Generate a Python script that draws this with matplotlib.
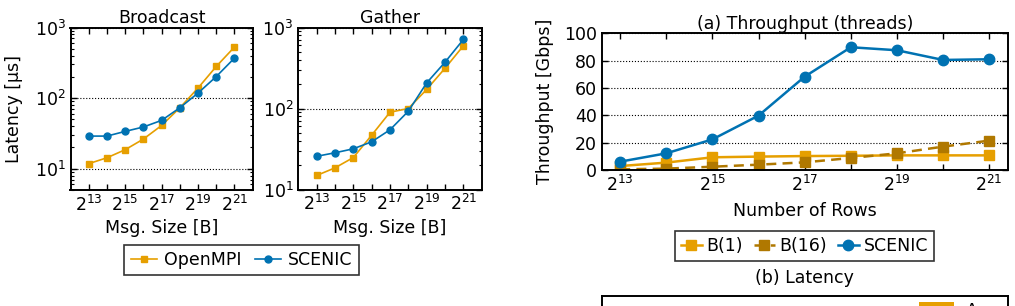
import matplotlib
matplotlib.use("Agg")
import matplotlib.pyplot as plt
from matplotlib.ticker import FixedLocator, FuncFormatter, LogLocator, NullFormatter
from matplotlib.patches import Rectangle

# ---------------- data ----------------
exps = [13, 14, 15, 16, 17, 18, 19, 20, 21]
msg_sizes = [2 ** e for e in exps]

bcast_openmpi = [11.8, 14.3, 18.6, 26.3, 41, 73, 139, 281, 529]
bcast_scenic = [29, 29, 33.8, 39, 48.4, 73, 118, 202, 369]

gather_openmpi = [14.9, 18.5, 24.8, 46.8, 90, 100, 172, 314, 594]
gather_scenic = [25.7, 28.4, 31.8, 38.8, 54.6, 92.6, 207, 373, 711]

rows = [2 ** e for e in exps]
tp_b1 = [2.9, 5.4, 9.3, 9.8, 10.2, 10.4, 10.7, 10.7, 10.7]
tp_b16 = [0.5, 1.0, 2.4, 3.9, 5.6, 8.8, 12.2, 17.1, 21.5]
tp_scenic = [6.1, 12.2, 22.4, 39.8, 68.3, 89.8, 87.6, 80.5, 81.0]

ORANGE = "#E69F00"
BLUE = "#0072B2"
GOLD = "#B07800"

plt.rcParams["font.family"] = ["DejaVu Sans"]
FS = 12.5

W, H = 1015, 306
fig = plt.figure(figsize=(W / 100, H / 100), dpi=100)


def px_axes(left, right, top, bottom):
    return fig.add_axes([left / W, 1 - bottom / H, (right - left) / W, (bottom - top) / H])


def pow2_fmt(v, pos):
    import math
    e = int(round(math.log2(v)))
    if e % 2 == 1:
        return r"$2^{%d}$" % e
    return ""


def style_common(ax):
    for s in ax.spines.values():
        s.set_linewidth(1.4)
    ax.tick_params(which="both", direction="in", top=True, right=True, labelsize=FS)
    ax.tick_params(which="major", length=4, width=1)
    ax.tick_params(which="minor", length=2.5, width=0.8)


def latency_axes(ax, title, y_mpi, y_sc, ylim, show_ylabel):
    ax.set_xscale("log", base=2)
    ax.set_yscale("log")
    ax.plot(msg_sizes, y_mpi, marker="s", color=ORANGE, markersize=5, lw=1.2, label="OpenMPI")
    ax.plot(msg_sizes, y_sc, marker="o", color=BLUE, markersize=5, lw=1.2, label="SCENIC")
    ax.set_xlim(2 ** 12, 2 ** 22)
    ax.set_ylim(*ylim)
    ax.xaxis.set_major_locator(FixedLocator(msg_sizes))
    ax.xaxis.set_major_formatter(FuncFormatter(pow2_fmt))
    ax.xaxis.set_minor_locator(FixedLocator([]))
    ax.yaxis.set_major_locator(LogLocator(base=10))
    ax.yaxis.set_minor_locator(LogLocator(base=10, subs=range(2, 10)))
    ax.yaxis.set_minor_formatter(NullFormatter())
    ax.grid(axis="y", which="major", linestyle=":", color="black", lw=0.8)
    style_common(ax)
    ax.set_title(title, fontsize=FS, pad=3)
    ax.set_xlabel("Msg. Size [B]", fontsize=FS, labelpad=3)
    if show_ylabel:
        ax.set_ylabel("Latency [µs]", fontsize=FS, labelpad=8)


ax1 = px_axes(70.5, 252.7, 27.5, 190)
latency_axes(ax1, "Broadcast", bcast_openmpi, bcast_scenic, (5, 1000), True)

ax2 = px_axes(298.3, 481.7, 27.5, 189.5)
latency_axes(ax2, "Gather", gather_openmpi, gather_scenic, (10, 1000), False)

h, l = ax1.get_legend_handles_labels()
leg1 = fig.legend(h, l, loc="center", bbox_to_anchor=(241.5 / W, 1 - 260 / H), ncol=2,
                  fontsize=FS, frameon=True, fancybox=False, edgecolor="black",
                  handlelength=1.5, handletextpad=0.4, columnspacing=0.8, borderpad=0.35)
leg1.get_frame().set_linewidth(1.2)

# ---------------- throughput ----------------
ax3 = px_axes(601.7, 1007.7, 33.3, 170)
ax3.set_xscale("log", base=2)
ax3.plot(rows, tp_b1, marker="s", color=ORANGE, markersize=7.5, lw=1.8, label="B(1)")
ax3.plot(rows, tp_b16, marker="s", color=GOLD, markersize=7.5, lw=1.8, ls=(0, (4, 2.5)), label="B(16)")
ax3.plot(rows, tp_scenic, marker="o", color=BLUE, markersize=7.5, lw=1.8, label="SCENIC")
ax3.set_xlim(2 ** 12.6, 2 ** 21.4)
ax3.set_ylim(0, 100)
ax3.xaxis.set_major_locator(FixedLocator(rows))
ax3.xaxis.set_major_formatter(FuncFormatter(pow2_fmt))
ax3.xaxis.set_minor_locator(FixedLocator([]))
ax3.set_yticks([0, 20, 40, 60, 80, 100])
ax3.grid(axis="y", which="major", linestyle=":", color="black", lw=0.8)
style_common(ax3)
ax3.set_title("(a) Throughput (threads)", fontsize=FS, pad=2)
ax3.set_xlabel("Number of Rows", fontsize=FS, labelpad=5)
ax3.set_ylabel("Throughput [Gbps]", fontsize=FS, labelpad=7)

h3, l3 = ax3.get_legend_handles_labels()
leg3 = fig.legend(h3, l3, loc="center", bbox_to_anchor=(804.5 / W, 1 - 246 / H), ncol=3,
                  fontsize=FS, frameon=True, fancybox=False, edgecolor="black",
                  handlelength=1.2, handletextpad=0.3, columnspacing=0.6, borderpad=0.35)
leg3.get_frame().set_linewidth(1.2)

fig.text(804 / W, 1 - 278 / H, "(b) Latency", ha="center", va="center", fontsize=FS)

# partially visible lower panel
ax4 = px_axes(601.7, 1007.7, 295.5, 400)
ax4.set_xticks([])
ax4.set_yticks([])
for s in ax4.spines.values():
    s.set_linewidth(1.4)
fig.add_artist(Rectangle((919.3 / W, 0), (954 - 919.3) / W, (306 - 301.7) / H,
                         transform=fig.transFigure, color=ORANGE, lw=0))
fig.text(966 / W, 1 - 302 / H, "A", ha="left", va="top", fontsize=FS)

fig.savefig("out.png", dpi=100)
